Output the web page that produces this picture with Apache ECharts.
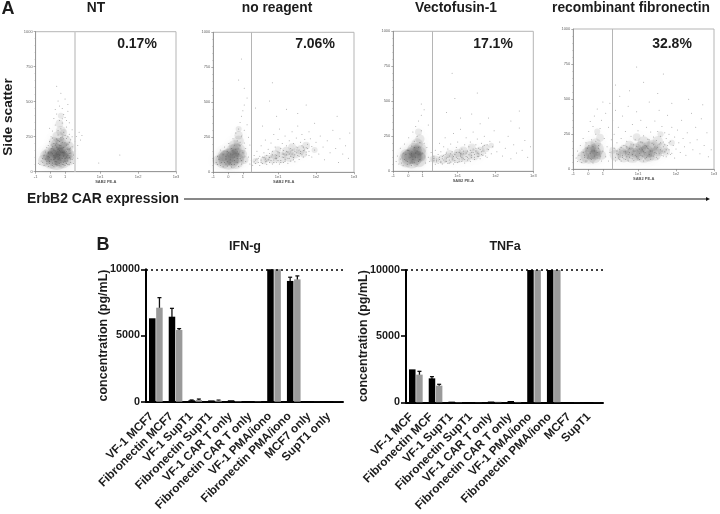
<!DOCTYPE html>
<html>
<head>
<meta charset="utf-8">
<style>html,body{margin:0;background:#fff}#main{width:720px;height:514px}</style>
<script src="https://cdn.jsdelivr.net/npm/echarts@6/dist/echarts.min.js"></script>
</head>
<body>
<div id="main"></div>
<script>
// flow panels, x is position along the biexponential axis (0-100), y is side scatter
var flowTitles = ['NT', 'no reagent', 'Vectofusin-1', 'recombinant fibronectin'];
var flowPercents = ['0.17%', '7.06%', '17.1%', '32.8%'];
var flowGates = [27.8, 27, 27.9, 27.7];
var flowTickValues = [0, 10.7, 21, 46, 73, 100];
var flowTickLabels = ['-1', '0', '1', '1e1', '1e2', '1e3'];

// dense regions, [x, y, events]
var ntCore = [[15,92,420],[11,84,260],[19,86,260],[15,112,300],[10,122,170],[20,126,220],[14,152,190],[20,160,170],[16,192,170],[21,222,110],[16,250,110],[23,130,110],[6,80,120],[24,84,90],[7,118,90],[25,120,70],[18,292,80],[13,212,80],[24,182,70],[17,345,50],[18,400,30],[20,280,40],[13,100,200],[18,100,200],[16,140,200],[18,200,120]];
var noReagentCore = [[11,92,360],[7,82,200],[16,84,230],[12,112,260],[17,118,200],[7,118,110],[14,150,160],[18,158,150],[15,190,110],[18,225,90],[18,265,60],[3,85,80],[22,90,60],[21,130,60],[18,310,30],[9,100,200],[14,100,200],[16,170,110],[30,80,30],[36,85,50],[42,95,70],[48,105,110],[44,125,70],[54,115,110],[38,100,40],[58,135,90],[62,160,70],[66,190,50],[52,150,70],[72,160,30],[46,165,30],[56,180,50],[64,130,40]];
var vectofusinCore = [[13,92,340],[9,82,190],[18,86,210],[14,115,260],[18,125,200],[9,118,110],[15,152,170],[19,160,140],[17,195,110],[19,230,70],[18,280,40],[20,100,60],[11,100,180],[16,100,180],[16,140,150],[30,85,50],[35,85,70],[40,92,90],[46,100,120],[52,108,120],[58,118,100],[40,125,50],[62,140,80],[50,145,70],[66,165,50],[56,170,50],[70,185,25],[28,88,30],[46,130,60]];
var fibronectinCore = [[11,100,240],[7,85,130],[15,92,150],[14,125,190],[17,145,150],[12,160,110],[16,185,90],[20,100,70],[19,225,50],[17,270,30],[30,100,110],[36,95,140],[42,100,190],[50,105,230],[58,110,150],[44,135,170],[54,145,200],[63,150,110],[50,190,130],[60,200,90],[36,140,80],[28,135,40],[45,230,50],[62,250,30],[70,190,30],[46,110,150],[52,125,150],[40,170,70],[56,170,110],[66,125,50],[12,120,160],[16,110,120],[34,120,90],[48,160,110],[60,130,90],[40,125,90],[54,95,110]];

// single events, [x, y]
var ntDots = [[3,52],[5,68],[6,44],[7,91],[8,57],[9,38],[9,133],[10,72],[10,104],[11,48],[11,166],[12,63],[12,128],[13,39],[13,88],[13,201],[14,55],[14,147],[15,71],[15,176],[15,233],[16,44],[16,122],[16,262],[17,60],[17,98],[17,154],[17,215],[18,41],[18,83],[18,188],[18,306],[19,52],[19,139],[19,247],[19,347],[20,67],[20,113],[20,172],[20,281],[21,45],[21,94],[21,206],[21,388],[22,58],[22,146],[22,238],[22,320],[23,76],[23,118],[23,197],[23,431],[24,49],[24,102],[24,163],[24,268],[25,66],[25,134],[25,228],[26,87],[26,178],[26,300],[27,59],[27,120],[28,148],[28,215],[29,252],[30,96],[30,188],[31,282],[32,226],[33,258],[17,365],[15,412],[19,452],[14,333],[13,380],[16,505],[18,560],[15,610],[20,408],[22,366],[12,290],[11,250],[10,215],[8,172],[7,140],[6,118],[5,95],[4,76],[2,60],[9,188],[12,240],[16,295],[19,378],[24,350],[26,250],[21,520],[17,470],[14,445],[23,480],[10,310],[60,120],[45,62],
  [8,75],[9,110],[10,60],[11,135],[11,88],[12,45],[12,178],[13,115],[13,155],[14,72],[14,190],[14,98],[15,50],[15,135],[15,205],[16,85],[16,160],[16,222],[17,118],[17,43],[17,185],[18,140],[18,68],[18,245],[19,95],[19,170],[19,210],[20,50],[20,135],[20,235],[21,75],[21,155],[21,260],[22,105],[22,190],[23,52],[23,160],[23,250],[24,130],[24,210],[25,90],[25,170]];
var noReagentDots = [[2,70],[3,115],[3,55],[4,92],[5,48],[5,160],[6,70],[7,40],[7,125],[8,180],[9,60],[9,95],[10,45],[10,150],[11,205],[12,68],[12,130],[13,38],[13,170],[14,240],[15,55],[15,110],[15,195],[16,280],[17,72],[17,150],[17,225],[18,42],[18,310],[19,100],[19,190],[19,355],[20,60],[20,260],[20,400],[21,140],[21,440],[22,210],[22,300],[22,480],[23,78],[23,170],[24,340],[24,530],[25,110],[25,250],[26,60],[26,195],[27,85],[28,50],[29,76],[29,120],[30,62],[31,95],[31,150],[32,70],[33,48],[33,115],[34,88],[34,190],[35,62],[36,105],[36,140],[37,75],[37,230],[38,55],[38,120],[39,90],[39,165],[40,70],[40,135],[41,110],[41,210],[42,60],[42,150],[43,88],[43,270],[44,125],[44,180],[45,72],[45,100],[46,145],[46,235],[47,60],[47,115],[47,310],[48,85],[48,170],[49,130],[49,205],[50,70],[50,105],[50,155],[51,260],[51,90],[52,125],[52,190],[53,65],[53,145],[54,100],[54,225],[55,170],[55,80],[56,130],[56,290],[57,205],[57,105],[58,150],[58,75],[59,180],[59,245],[60,120],[60,330],[61,160],[61,92],[62,215],[62,135],[63,190],[63,270],[64,110],[64,155],[65,235],[66,175],[66,125],[67,200],[68,150],[68,290],[69,240],[70,185],[70,110],[72,160],[72,350],[73,215],[75,130],[76,260],[78,180],[79,90],[81,225],[83,140],[85,300],[87,170],[89,70],[90,240],[92,130],[94,190],[96,100],[97,280],[45,400],[35,330],[30,460],[52,450],[60,420],[40,510],[66,480],[22,600],[18,660],[42,640],[88,400],[20,810],
  [30,88],[32,100],[34,72],[35,110],[37,95],[38,80],[40,105],[41,85],[42,125],[43,70],[44,100],[45,120],[46,85],[47,140],[48,70],[49,110],[50,130],[51,78],[52,150],[53,100],[54,130],[55,115],[56,160],[57,90],[58,125],[59,140],[60,175],[61,115],[62,150],[63,125],[64,180],[65,160],[66,145],[67,170],[68,120],[8,70],[9,115],[10,75],[11,140],[12,90],[13,55],[14,125],[15,85],[16,165],[17,100],[18,130],[19,215],[20,85]];
var vectofusinDots = [[2,70],[3,110],[4,52],[5,88],[5,165],[6,60],[7,44],[7,130],[8,195],[9,75],[10,50],[10,150],[11,240],[12,100],[13,42],[13,180],[14,280],[15,65],[15,215],[16,130],[16,320],[17,50],[17,250],[18,170],[18,360],[19,85],[20,290],[20,400],[21,130],[22,200],[22,440],[23,60],[24,170],[25,100],[25,330],[26,70],[27,135],[28,60],[28,90],[29,75],[29,110],[30,50],[30,150],[31,88],[31,68],[32,120],[32,58],[33,100],[33,200],[34,72],[34,140],[35,52],[35,90],[36,115],[36,175],[37,68],[37,240],[38,95],[38,130],[39,55],[39,160],[40,80],[40,110],[41,195],[41,66],[42,140],[42,95],[43,52],[43,270],[44,120],[44,78],[45,170],[45,100],[46,62],[46,210],[47,135],[47,88],[48,110],[48,300],[49,70],[49,160],[50,125],[50,90],[51,190],[51,60],[52,105],[52,240],[53,145],[53,80],[54,175],[54,118],[55,70],[55,210],[56,135],[56,98],[57,160],[57,280],[58,85],[58,120],[59,190],[59,145],[60,105],[60,230],[61,165],[61,125],[62,340],[62,90],[63,200],[63,140],[64,115],[64,175],[65,250],[66,130],[67,190],[67,100],[68,155],[69,215],[70,125],[71,175],[72,290],[74,140],[76,210],[78,110],[80,165],[82,250],[84,90],[86,190],[88,130],[90,310],[92,150],[94,220],[96,100],[98,175],[48,380],[38,420],[28,450],[56,410],[68,380],[44,520],[60,560],[20,480],[84,360],[42,700],[90,430],
  [29,92],[31,78],[33,85],[34,62],[35,105],[36,80],[37,120],[38,70],[39,100],[40,60],[41,125],[42,82],[43,105],[44,65],[45,135],[46,92],[47,72],[48,125],[49,100],[50,145],[51,85],[52,130],[53,100],[54,90],[55,150],[56,115],[57,135],[58,100],[59,165],[60,130],[61,105],[62,155],[63,120],[64,145],[65,185],[66,110],[67,160],[8,85],[9,120],[10,70],[11,150],[12,60],[13,125],[14,85],[15,170],[16,100],[17,145],[18,70],[19,205]];
var fibronectinDots = [[2,80],[3,55],[3,130],[4,100],[5,70],[5,170],[6,48],[7,120],[7,220],[8,85],[9,60],[9,190],[10,150],[11,270],[12,75],[12,340],[13,210],[14,45],[14,305],[15,130],[15,380],[16,250],[17,80],[17,430],[18,170],[19,290],[20,60],[20,350],[21,130],[21,480],[22,220],[23,90],[23,400],[24,160],[25,300],[25,60],[26,120],[26,470],[27,210],[28,75],[28,350],[29,150],[29,250],[30,60],[30,420],[31,110],[31,190],[32,80],[32,300],[33,140],[33,520],[34,60],[34,220],[35,100],[35,380],[36,170],[36,75],[37,125],[37,270],[38,90],[38,200],[39,60],[39,450],[40,150],[40,120],[41,235],[41,80],[42,320],[42,105],[43,175],[43,65],[44,210],[44,130],[45,90],[45,410],[46,160],[46,275],[47,115],[47,70],[48,195],[48,350],[49,140],[49,95],[50,240],[50,60],[51,170],[51,120],[52,300],[52,85],[53,215],[53,150],[54,105],[54,480],[55,265],[55,70],[56,185],[56,130],[57,230],[57,95],[58,345],[58,160],[59,205],[59,115],[60,270],[60,75],[61,180],[61,420],[62,140],[62,235],[63,100],[63,305],[64,195],[64,160],[65,125],[65,260],[66,220],[66,90],[67,170],[67,385],[68,140],[68,250],[69,200],[70,115],[70,300],[71,170],[72,230],[72,80],[73,145],[74,280],[75,190],[76,120],[77,350],[78,220],[79,160],[80,100],[81,260],[83,190],[84,400],[85,140],[87,300],[88,210],[90,110],[91,360],[93,170],[95,260],[96,90],[98,140],[40,560],[30,600],[50,620],[60,540],[70,470],[82,500],[64,680],[45,730],[92,460],
  [30,85],[31,130],[32,105],[33,70],[34,155],[35,85],[36,125],[37,70],[38,160],[39,105],[40,85],[41,180],[42,75],[43,130],[44,100],[45,165],[46,80],[47,145],[48,100],[49,190],[50,125],[51,75],[52,165],[53,95],[54,210],[55,130],[56,95],[57,175],[58,120],[59,85],[60,155],[61,110],[62,190],[63,130],[64,95],[65,175],[66,140],[67,115],[68,190],[69,105],[8,100],[9,130],[10,80],[11,170],[12,115],[13,70],[14,160],[15,95],[16,200],[17,120],[18,150],[19,95]];

var flowCores = [ntCore, noReagentCore, vectofusinCore, fibronectinCore];
var flowDots = [ntDots, noReagentDots, vectofusinDots, fibronectinDots];

// cytokine bars
var ifnCategories = ['VF-1 MCF7', 'Fibronectin MCF7', 'VF-1 SupT1', 'Fibronectin SupT1', 'VF-1 CAR T only', 'Fibronectin CAR T only', 'VF-1 PMA/iono', 'Fibronectin PMA/iono', 'MCF7 only', 'SupT1 only'];
var ifnBlack = [6300, 6420, 110, 100, 110, 30, 10000, 9120, 5, 5];
var ifnGray = [7100, 5415, 130, 80, 30, 20, 10000, 9240, 5, 5];
var ifnBlackTop = [null, 7050, 130, null, null, null, null, 9400, null, null];
var ifnGrayTop = [7860, 5520, 200, 120, null, null, null, 9500, null, null];

var tnfCategories = ['VF-1 MCF', 'Fibronectin MCF', 'VF-1 SupT1', 'Fibronectin SupT1', 'VF-1 CAR T only', 'Fibronectin CAR T only', 'VF-1 PMA/iono', 'Fibronectin PMA/iono', 'MCF7', 'SupT1'];
var tnfBlack = [2490, 1810, 50, 10, 60, 100, 10000, 10000, 5, 5];
var tnfGray = [2090, 1260, 20, 10, 40, 30, 10000, 10000, 5, 5];
var tnfBlackTop = [null, 1940, null, null, null, null, null, null, null, null];
var tnfGrayTop = [2340, 1360, null, null, null, null, null, null, null, null];

var FONT = '"Liberation Sans", Arial, sans-serif';
var INK = '#1c1c1c';

var flowBoxes = [
  { left: 35.6, top: 31.7, width: 140.4, height: 140 },
  { left: 213.3, top: 32.3, width: 140.7, height: 140 },
  { left: 393.3, top: 31.3, width: 140, height: 140 },
  { left: 573.3, top: 29, width: 140.7, height: 140.3 }
];

var grids = [], xAxes = [], yAxes = [], series = [], graphics = [];

function plain(v) {
  return String(v);
}

function addText(text, x, y, size, opts) {
  graphics.push(Object.assign({
    type: 'text',
    x: x,
    y: y,
    style: {
      text: text,
      fontFamily: FONT,
      fontWeight: 'bold',
      fontSize: size,
      fill: INK,
      textAlign: 'center',
      textVerticalAlign: 'middle'
    }
  }, opts || {}));
}

flowBoxes.forEach(function (box, i) {
  grids.push(Object.assign({ show: true, borderColor: '#b5b5b5', borderWidth: 1, backgroundColor: '#fff', outerBoundsMode: 'none' }, box));
  xAxes.push({
    gridIndex: i,
    type: 'value',
    min: 0,
    max: 100,
    splitLine: { show: false },
    axisLine: { onZero: false, lineStyle: { color: '#999', width: 1 } },
    axisTick: { customValues: flowTickValues, length: 2, lineStyle: { color: '#777', width: 0.6 } },
    axisLabel: {
      customValues: flowTickValues,
      fontSize: 4,
      color: '#666',
      margin: 3,
      fontFamily: FONT,
      formatter: function (v) {
        return flowTickLabels[flowTickValues.indexOf(v)];
      }
    },
    name: 'SAB2 PE-A',
    nameLocation: 'middle',
    nameGap: 8,
    nameMoveOverlap: false,
    nameTextStyle: { fontSize: 4, fontWeight: 'bold', color: '#555', fontFamily: FONT }
  });
  yAxes.push({
    gridIndex: i,
    type: 'value',
    min: 0,
    max: 1000,
    interval: 250,
    splitLine: { show: false },
    axisLine: { onZero: false, lineStyle: { color: '#999', width: 1 } },
    axisTick: { length: 2, lineStyle: { color: '#777', width: 0.6 } },
    minorTick: { show: true, splitNumber: 5, length: 1, lineStyle: { color: '#999', width: 0.5 } },
    axisLabel: { fontSize: 4, color: '#666', margin: 3, fontFamily: FONT, formatter: plain }
  });
  series.push({
    type: 'scatter',
    xAxisIndex: i,
    yAxisIndex: i,
    data: flowCores[i],
    symbolSize: function (d) { return Math.sqrt(d[2]) * 1.1; },
    silent: true,
    itemStyle: { color: 'rgba(50,50,50,0.12)', shadowBlur: 12, shadowColor: 'rgba(50,50,50,0.42)' }
  });
  series.push({
    type: 'scatter',
    xAxisIndex: i,
    yAxisIndex: i,
    data: flowDots[i],
    symbolSize: 1,
    silent: true,
    itemStyle: { color: '#333', opacity: 0.45 },
    markLine: {
      silent: true,
      symbol: 'none',
      label: { show: false },
      animation: false,
      lineStyle: { color: i === 0 ? '#cfcfcf' : '#b5b5b5', width: i === 0 ? 1.6 : 1, type: 'solid' },
      data: [{ xAxis: flowGates[i] }]
    }
  });
  addText(flowTitles[i], [96, 277, 456, 631][i], 8, 13.8);
  addText(flowPercents[i], [137, 315, 493, 672][i], 44, 14);
});

// upper error whiskers, drawn over the bar they belong to
function whiskers(tops, offset, xIdx) {
  return {
    type: 'custom',
    xAxisIndex: xIdx,
    yAxisIndex: xIdx,
    silent: true,
    data: tops.map(function (t, k) { return [k, t]; }).filter(function (d) { return d[1] !== null; }),
    renderItem: function (params, api) {
      var p = api.coord([api.value(0), api.value(1)]);
      var base = api.coord([api.value(0), 0]);
      var x = p[0] + offset;
      var style = { stroke: '#111', lineWidth: 1.3 };
      return {
        type: 'group',
        children: [
          { type: 'line', shape: { x1: x, y1: p[1], x2: x, y2: Math.min(base[1], p[1] + 12) }, style: style },
          { type: 'line', shape: { x1: x - 2, y1: p[1], x2: x + 2, y2: p[1] }, style: style }
        ]
      };
    }
  };
}

function addBars(idx, left, top, width, height, cats, black, gray, blackTop, grayTop, title, titleX) {
  grids.push({ left: left, top: top, width: width, height: height, outerBoundsMode: 'none' });
  xAxes.push({
    gridIndex: idx,
    type: 'category',
    data: cats,
    axisLine: { lineStyle: { color: '#000', width: 2 } },
    axisTick: { alignWithLabel: true, length: 5, lineStyle: { color: '#000', width: 1.6 } },
    axisLabel: { interval: 0, rotate: 45, fontSize: 11.8, fontWeight: 'bold', color: INK, fontFamily: FONT, margin: 17, verticalAlign: 'bottom' }
  });
  yAxes.push({
    gridIndex: idx,
    type: 'value',
    min: 0,
    max: 10000,
    interval: 5000,
    splitLine: { show: false },
    axisLine: { show: true, lineStyle: { color: '#000', width: 2 } },
    axisTick: { show: true, length: 5, lineStyle: { color: '#000', width: 1.6 } },
    axisLabel: { fontSize: 10.8, fontWeight: 'bold', color: INK, fontFamily: FONT, margin: 6, formatter: plain },
    name: 'concentration (pg/mL)',
    nameLocation: 'middle',
    nameGap: 36,
    nameMoveOverlap: false,
    nameTextStyle: { fontSize: 12.5, fontWeight: 'bold', color: INK, fontFamily: FONT }
  });
  series.push({
    type: 'bar',
    xAxisIndex: idx,
    yAxisIndex: idx,
    data: black,
    barWidth: 6.5,
    barGap: '10%',
    itemStyle: { color: '#000' },
    markLine: {
      silent: true,
      symbol: 'none',
      animation: false,
      label: { show: false },
      lineStyle: { color: '#000', width: 1.6, type: [2, 3] },
      data: [{ yAxis: 10000 }]
    }
  });
  series.push({
    type: 'bar',
    xAxisIndex: idx,
    yAxisIndex: idx,
    data: gray,
    barWidth: 6.5,
    barGap: '10%',
    itemStyle: { color: '#9a9a9a' }
  });
  series.push(whiskers(blackTop, -3.6, idx));
  series.push(whiskers(grayTop, 3.6, idx));
  addText(title, titleX, 247, 12.5);
}

addBars(4, 146, 269.3, 197, 132.4, ifnCategories, ifnBlack, ifnGray, ifnBlackTop, ifnGrayTop, 'IFN-g', 245);
addBars(5, 406, 270, 197, 132.3, tnfCategories, tnfBlack, tnfGray, tnfBlackTop, tnfGrayTop, 'TNFa', 505);

addText('A', 8, 9, 18);
addText('B', 103, 245, 18);
addText('Side scatter', 8, 117, 13.7, { rotation: Math.PI / 2 });
addText('ErbB2 CAR expression', 103, 199, 13.9);

// long arrow under the flow panels
graphics.push({ type: 'line', shape: { x1: 184, y1: 199, x2: 706, y2: 199 }, style: { stroke: '#111', lineWidth: 1 } });
graphics.push({ type: 'polygon', shape: { points: [[706, 197], [710, 199], [706, 201]] }, style: { fill: '#111' } });

var chart = echarts.init(document.getElementById('main'));
chart.setOption({
  animation: false,
  backgroundColor: '#fff',
  grid: grids,
  xAxis: xAxes,
  yAxis: yAxes,
  series: series,
  graphic: graphics
});
</script>
</body>
</html>
